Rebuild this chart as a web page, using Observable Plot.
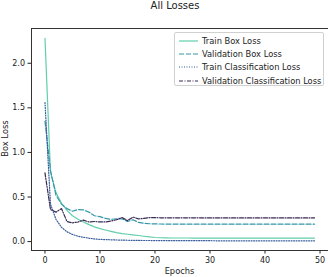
<!DOCTYPE html>
<html><head><meta charset="utf-8">
<script src="https://cdn.jsdelivr.net/npm/d3@7"></script>
<script src="https://cdn.jsdelivr.net/npm/@observablehq/plot@0.6"></script>
<style>
html,body{margin:0;padding:0;background:#fff;}
#wrap{position:relative;width:328px;height:277px;font-family:"DejaVu Sans",sans-serif;overflow:hidden;}
#title{position:absolute;left:0;width:350px;top:0px;line-height:11px;text-align:center;font-size:10px;color:#222;}
#xlabel{position:absolute;left:31px;width:297px;top:266px;line-height:11px;text-align:center;font-size:8.3px;color:#222;}
#ylabel{position:absolute;left:-25px;top:133px;width:60px;line-height:11px;text-align:center;font-size:8.3px;color:#222;transform:rotate(-90deg);}
#legend{position:absolute;left:174px;top:32px;width:150px;height:54px;border:1px solid #d0d0d0;border-radius:2px;background:rgba(255,255,255,0.85);font-size:8.3px;color:#222;box-sizing:border-box;}
.row{position:absolute;left:3px;height:12px;line-height:12px;white-space:nowrap;}
.row svg{position:absolute;left:0;top:0;}
.row span{position:absolute;left:24px;top:0;}
</style></head>
<body>
<div id="wrap">
<div id="title">All Losses</div>
<div id="chart"></div>
<div id="xlabel">Epochs</div>
<div id="ylabel">Box Loss</div>
<div id="legend"></div>
</div>
<script>
const epochs = d3.range(50);
const seriesNames = ["Train Box Loss","Validation Box Loss","Train Classification Loss","Validation Classification Loss"];
const colors = ["#60CEAC","#3497A9","#395D9C","#382A54"];
const dashes = [null,"5,2","1,1.5","4,1.5,1,1.5"];
const trainBox = [2.28,0.78,0.55,0.43,0.35,0.29,0.25,0.22,0.19,0.165,0.145,0.13,0.115,0.1,0.09,0.082,0.075,0.068,0.06,0.052,0.046,0.043,0.041,0.04,0.04,0.04,0.04,0.039,0.039,0.039,0.039,0.039,0.039,0.038,0.038,0.038,0.038,0.038,0.038,0.038,0.038,0.038,0.038,0.038,0.038,0.038,0.038,0.038,0.038,0.038];
const valBox = [1.35,0.8,0.52,0.42,0.37,0.34,0.36,0.355,0.33,0.29,0.28,0.26,0.25,0.255,0.255,0.225,0.245,0.215,0.205,0.2,0.198,0.197,0.196,0.196,0.196,0.196,0.195,0.195,0.195,0.195,0.195,0.195,0.195,0.195,0.195,0.195,0.195,0.195,0.195,0.195,0.195,0.195,0.195,0.195,0.195,0.195,0.195,0.195,0.195,0.195];
const trainCls = [1.56,0.42,0.25,0.16,0.11,0.08,0.06,0.048,0.038,0.03,0.025,0.022,0.02,0.018,0.016,0.015,0.014,0.013,0.012,0.012,0.011,0.011,0.011,0.01,0.01,0.01,0.01,0.01,0.01,0.01,0.01,0.009,0.009,0.009,0.009,0.009,0.009,0.009,0.009,0.009,0.009,0.009,0.009,0.009,0.009,0.009,0.009,0.009,0.009,0.009];
const valCls = [0.77,0.36,0.33,0.37,0.225,0.21,0.22,0.24,0.22,0.225,0.22,0.22,0.23,0.245,0.27,0.235,0.275,0.255,0.26,0.27,0.268,0.267,0.267,0.267,0.266,0.266,0.266,0.266,0.266,0.265,0.265,0.265,0.265,0.265,0.265,0.265,0.265,0.265,0.265,0.265,0.265,0.265,0.265,0.265,0.265,0.265,0.265,0.265,0.265,0.265];
const yTicks = [0,0.5,1.0,1.5,2.0];
const xTicks = [0,10,20,30,40,50];

const allSeries = [trainBox,valBox,trainCls,valCls];
const marks = [];
allSeries.forEach((vals,i)=>{
  const data = epochs.map(e=>({epoch:e,loss:vals[e]}));
  marks.push(Plot.line(data,{x:"epoch",y:"loss",stroke:colors[i],strokeWidth:1.2,strokeDasharray:dashes[i]||undefined}));
});
marks.push(Plot.frame({anchor:"top",stroke:"#333"}));
marks.push(Plot.frame({anchor:"left",stroke:"#333"}));
marks.push(Plot.frame({anchor:"bottom",stroke:"#333"}));

const chart = Plot.plot({
  width:328,height:277,
  marginLeft:31,marginRight:0.5,marginTop:28,marginBottom:27,
  style:{fontFamily:"DejaVu Sans, sans-serif",fontSize:"8px",color:"#222",background:"transparent"},
  x:{domain:[-2.45,51.45],ticks:xTicks,tickFormat:d=>String(d),tickSize:3.5,tickPadding:3,label:null},
  y:{domain:[-0.1,2.39],ticks:yTicks,tickFormat:d=>d.toFixed(1),tickSize:3.5,tickPadding:3,label:null},
  marks
});
document.getElementById("chart").appendChild(chart);

const leg = document.getElementById("legend");
seriesNames.forEach((n,i)=>{
  const r = document.createElement("div");
  r.className="row";
  r.style.top=(2+i*13.2)+"px";
  r.innerHTML=`<svg width="22" height="12"><line x1="1" x2="20" y1="6" y2="6" stroke="${colors[i]}" stroke-width="1.2" ${dashes[i]?`stroke-dasharray="${dashes[i]}"`:""}/></svg><span>${n}</span>`;
  leg.appendChild(r);
});
</script>
</body></html>
